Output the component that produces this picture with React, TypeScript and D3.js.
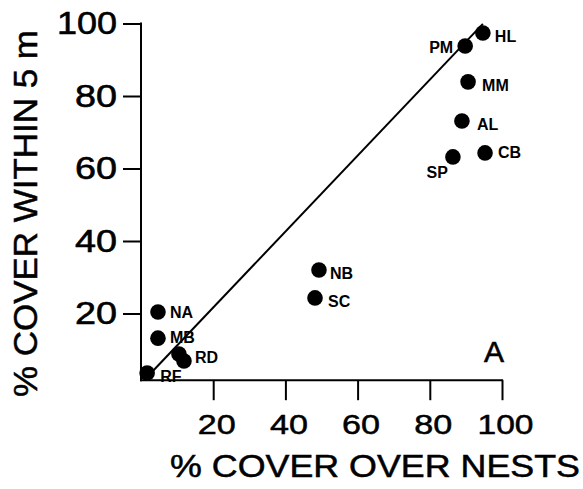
import React, { useEffect, useRef } from 'react';
import * as d3 from 'd3';

// site codes and cover values (%)
const sites = ['HL', 'PM', 'MM', 'AL', 'CB', 'SP', 'NB', 'SC', 'NA', 'MB', 'RD', '', 'RF'];
const coverOverNests = [94.7, 89.8, 90.6, 88.9, 95.3, 86.4, 49.3, 48.2, 4.7, 4.7, 10.5, 11.9, 1.7];
const coverWithin5m = [97.4, 93.8, 83.9, 73.1, 64.3, 63.2, 32.0, 24.3, 20.4, 13.2, 8.8, 6.9, 3.6];

const fitX = [2.5, 94.7];
const fitY = [3.3, 99.9];

const xTicks = [20, 40, 60, 80, 100];
const yTicks = [20, 40, 60, 80, 100];

// label placement relative to each dot
const labelPos: Record<string, [number, number, string]> = {
  HL: [12, 9, 'start'],
  PM: [-12, 7, 'end'],
  MM: [14, 9, 'start'],
  AL: [15, 9, 'start'],
  CB: [13, 5, 'start'],
  SP: [-5, 21, 'end'],
  NB: [11, 9, 'start'],
  SC: [13, 9, 'start'],
  NA: [12, 6, 'start'],
  MB: [12, 5, 'start'],
  RD: [16, 9, 'start'],
  RF: [13, 9, 'start'],
};

const App = () => {
  const ref = useRef<SVGSVGElement>(null);

  useEffect(() => {
    const svg = d3.select(ref.current);
    svg.selectAll('*').remove();

    const x = d3.scaleLinear().domain([0, 100]).range([141, 502]);
    const y = d3.scaleLinear().domain([0, 100]).range([386, 23.5]);
    const axisY = y(1.6);
    const font = '"Liberation Sans", Arial, sans-serif';

    // axis lines
    svg.append('line')
      .attr('x1', x(0)).attr('x2', x(0))
      .attr('y1', y(100.3)).attr('y2', axisY + 1)
      .attr('stroke', '#000').attr('stroke-width', 2);
    svg.append('line')
      .attr('x1', x(0) - 1).attr('x2', x(100.3))
      .attr('y1', axisY).attr('y2', axisY)
      .attr('stroke', '#000').attr('stroke-width', 2);

    const gy = svg.append('g')
      .attr('transform', `translate(${x(0)},0)`)
      .call(d3.axisLeft(y).tickValues(yTicks).tickSize(18).tickPadding(6).tickSizeOuter(0));
    gy.select('.domain').remove();
    gy.selectAll('line').attr('stroke-width', 2);
    gy.selectAll('text')
      .attr('font-family', font).attr('font-size', 32).attr('fill', '#000')
      .attr('stroke', '#000').attr('stroke-width', 0.6)
      .attr('textLength', (d: any) => (d >= 100 ? 60 : 42))
      .attr('lengthAdjust', 'spacingAndGlyphs');

    const gx = svg.append('g')
      .attr('transform', `translate(0,${axisY})`)
      .call(d3.axisBottom(x).tickValues(xTicks).tickSize(20).tickPadding(14).tickSizeOuter(0));
    gx.select('.domain').remove();
    gx.selectAll('line').attr('stroke-width', 2);
    gx.selectAll('text')
      .attr('font-family', font).attr('font-size', 28).attr('fill', '#000')
      .attr('stroke', '#000').attr('stroke-width', 0.5)
      .attr('dx', 3)
      .attr('textLength', (d: any) => (d >= 100 ? 56 : 38))
      .attr('lengthAdjust', 'spacingAndGlyphs');

    // fitted line
    const line = d3.line<number>()
      .x((d) => x(d))
      .y((_, i) => y(fitY[i]));
    svg.append('path')
      .datum(fitX)
      .attr('d', line)
      .attr('fill', 'none')
      .attr('stroke', '#000')
      .attr('stroke-width', 2);

    // points
    svg.selectAll('.dot')
      .data(sites)
      .enter()
      .append('circle')
      .attr('class', 'dot')
      .attr('cx', (_, i) => x(coverOverNests[i]))
      .attr('cy', (_, i) => y(coverWithin5m[i]))
      .attr('r', 7.8)
      .attr('fill', '#000');

    svg.selectAll('.lbl')
      .data(sites.filter((s) => s !== ''))
      .enter()
      .append('text')
      .attr('class', 'lbl')
      .attr('x', (s) => x(coverOverNests[sites.indexOf(s)]) + labelPos[s][0])
      .attr('y', (s) => y(coverWithin5m[sites.indexOf(s)]) + labelPos[s][1])
      .attr('text-anchor', (s) => labelPos[s][2])
      .attr('font-family', font)
      .attr('font-size', 16)
      .attr('font-weight', 'bold')
      .text((s) => s);

    svg.append('text')
      .attr('x', 494).attr('y', 362)
      .attr('text-anchor', 'middle')
      .attr('font-family', font).attr('font-size', 30)
      .attr('stroke', '#000').attr('stroke-width', 0.6)
      .text('A');

    svg.append('text')
      .attr('x', 170).attr('y', 477)
      .attr('font-family', font).attr('font-size', 31)
      .attr('stroke', '#000').attr('stroke-width', 0.5)
      .attr('textLength', 410).attr('lengthAdjust', 'spacingAndGlyphs')
      .text('% COVER OVER NESTS');

    svg.append('text')
      .attr('transform', 'translate(37,397) rotate(-90)')
      .attr('font-family', font).attr('font-size', 34)
      .attr('stroke', '#000').attr('stroke-width', 0.5)
      .attr('textLength', 367).attr('lengthAdjust', 'spacingAndGlyphs')
      .text('% COVER WITHIN 5 m');
  }, []);

  return (
    <svg
      ref={ref}
      width={583}
      height={489}
      style={{ position: 'absolute', left: 0, top: 0, background: '#fff' }}
    />
  );
};

export default App;
